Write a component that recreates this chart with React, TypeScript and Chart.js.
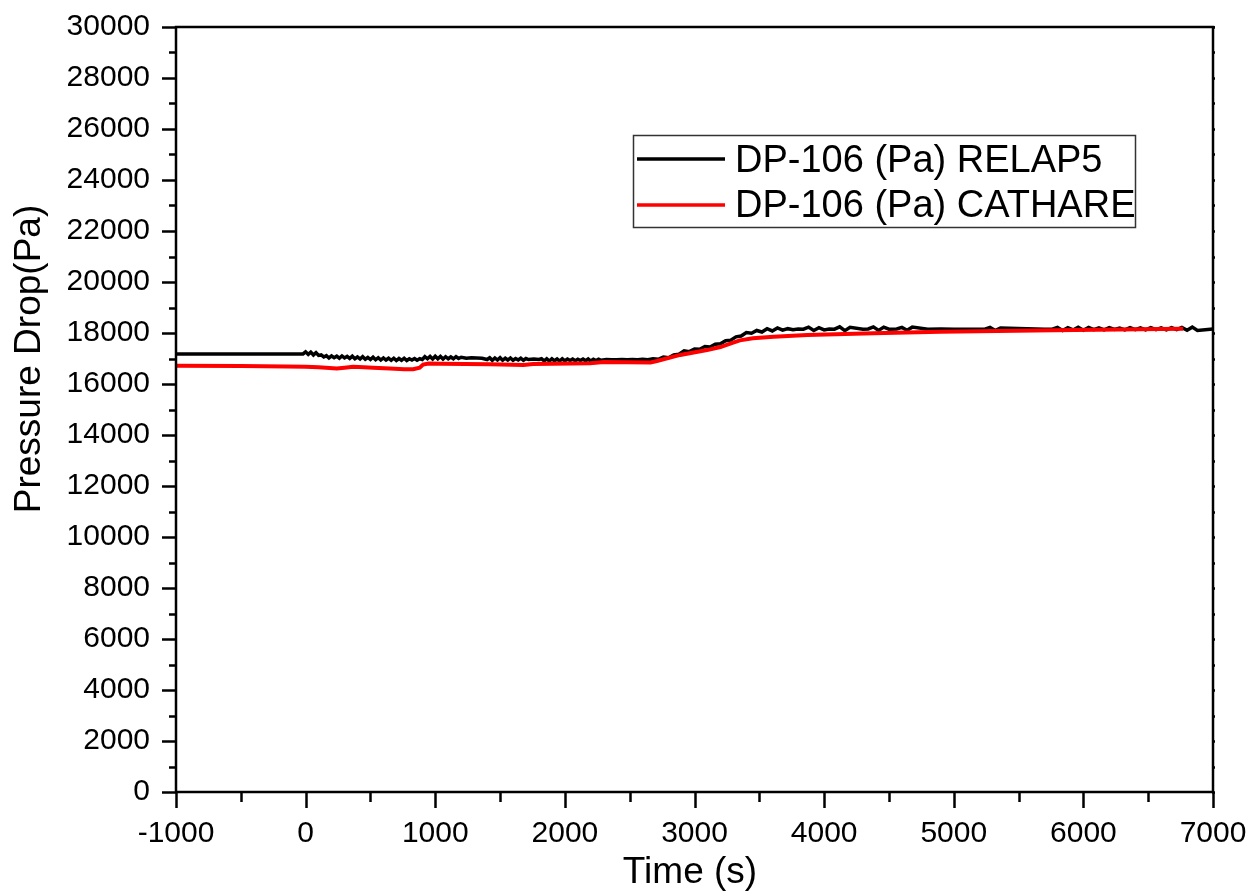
import React, { useEffect, useRef } from "react";
import { Chart, registerables } from "chart.js";

Chart.register(...registerables);

const FONT = "'Liberation Sans', Arial, sans-serif";

const xTitle = "Time (s)";
const yTitle = "Pressure Drop(Pa)";
const legendLabels = ["DP-106 (Pa) RELAP5", "DP-106 (Pa) CATHARE"];
const seriesColors = ["#000000", "#ff0000"];

const xMin = -1000;
const xMax = 7000;
const yMin = 0;
const yMax = 30000;

// RELAP5 (black)
const relapTime = [
  -1000, -20, 0, 20, 40, 60, 80, 100, 120, 140, 160, 180, 200, 220, 240, 260, 280, 300, 320, 340, 360, 380, 400,
  420, 440, 460, 480, 500, 520, 540, 560, 580, 600, 620, 640, 660, 680, 700, 720, 740, 760, 780, 800, 820, 840,
  860, 880, 900, 920, 940, 960, 980, 1000, 1020, 1040, 1060, 1080, 1100, 1120, 1140, 1160, 1180, 1200, 1240, 1280,
  1320, 1360, 1400, 1420, 1440, 1460, 1480, 1500, 1520, 1540, 1560, 1580, 1600, 1620, 1640, 1660, 1680, 1700, 1720,
  1760, 1800, 1820, 1840, 1860, 1880, 1900, 1920, 1940, 1960, 1980, 2000, 2020, 2040, 2060, 2080, 2100, 2120, 2140,
  2160, 2180, 2200, 2220, 2240, 2260, 2280, 2320, 2360, 2400, 2440, 2480, 2520, 2560, 2600, 2640, 2680, 2720, 2760,
  2800, 2840, 2880, 2920, 2960, 3000, 3040, 3080, 3120, 3160, 3200, 3240, 3280, 3320, 3360, 3400, 3440, 3480, 3520,
  3560, 3600, 3640, 3680, 3720, 3760, 3800, 3840, 3880, 3920, 3960, 4000, 4040, 4080, 4120, 4160, 4200, 4300, 4340,
  4380, 4420, 4460, 4500, 4560, 4600, 4640, 4680, 4800, 4900, 5000, 5200, 5240, 5280, 5320, 5360, 5700, 5760, 5800,
  5840, 5880, 5920, 5960, 6000, 6040, 6080, 6120, 6160, 6200, 6240, 6280, 6320, 6360, 6400, 6440, 6480, 6520, 6560,
  6600, 6640, 6680, 6720, 6760, 6800, 6840, 6880, 7000,
];
const relapPressure = [
  17180, 17180, 17260, 17160, 17250, 17140, 17230, 17120, 17140, 17060, 17110, 17020, 17100, 17030, 17090, 17010,
  17100, 17020, 17080, 17000, 17090, 16990, 17060, 16980, 17070, 16970, 17040, 16960, 17050, 16950, 17030, 16940,
  17020, 16940, 17010, 16930, 17010, 16920, 17000, 16930, 17010, 16920, 16990, 16940, 17000, 16930, 16990, 16960,
  17070, 16990, 17080, 16980, 17090, 16990, 17080, 16980, 17070, 16990, 17060, 16990, 17070, 17000, 17050, 17010,
  17030, 17020, 17010, 16960, 17030, 16930, 17020, 16940, 17030, 16930, 17010, 16940, 17020, 16930, 17000, 16940,
  17010, 16930, 17000, 16960, 16980, 16960, 16990, 16910, 16990, 16900, 16990, 16910, 16980, 16900, 16990, 16910,
  16980, 16920, 16980, 16910, 16970, 16920, 16980, 16910, 16980, 16900, 16970, 16920, 16970, 16930, 16960, 16950,
  16950, 16960, 16950, 16960, 16950, 16970, 16950, 16990, 16970, 17060, 17030, 17140, 17170, 17300, 17270, 17370,
  17360, 17470, 17450, 17560, 17580, 17700, 17720, 17850, 17880, 18020, 17990, 18100, 18040, 18170, 18080, 18200,
  18110, 18170, 18130, 18160, 18150, 18230, 18100, 18210, 18120, 18160, 18150, 18240, 18090, 18220, 18150, 18160,
  18240, 18100, 18230, 18150, 18160, 18220, 18110, 18230, 18150, 18160, 18150, 18150, 18150, 18220, 18100, 18200,
  18150, 18150, 18220, 18100, 18210, 18120, 18230, 18110, 18220, 18130, 18200, 18120, 18210, 18140, 18190, 18120,
  18210, 18130, 18200, 18120, 18210, 18130, 18200, 18120, 18210, 18130, 18220, 18110, 18230, 18100, 18160, 18160,
];

// CATHARE (red)
const cathareTime = [
  -1000, -500, -150, 0, 100, 240, 300, 366, 450, 520, 650, 760, 830, 880, 906, 950, 1037, 1420, 1680, 1755, 2195,
  2300, 2660, 2710, 2890, 3097, 3200, 3298, 3350, 3450, 3610, 3870, 4380, 4895, 5770, 6770,
];
const catharePressure = [
  16720, 16710, 16690, 16680, 16660, 16610, 16640, 16680, 16660, 16640, 16610, 16580, 16580, 16640, 16760, 16800,
  16790, 16770, 16750, 16780, 16810, 16860, 16840, 16900, 17140, 17330, 17450, 17620, 17710, 17790, 17850, 17920,
  17990, 18050, 18110, 18170,
];

const toPoints = (t: number[], v: number[]) => t.map((x, i) => ({ x, y: v[i] }));

const framePlugin = {
  id: "frame",
  afterDraw(chart: any) {
    const { ctx, chartArea, scales } = chart;
    const { left, right, top, bottom } = chartArea;
    const xs = scales.x;
    const ys = scales.y;
    ctx.save();
    ctx.strokeStyle = "#000";
    ctx.lineWidth = 2.5;
    ctx.strokeRect(left, top, right - left, bottom - top);
    ctx.lineCap = "butt";
    // y ticks
    for (let v = yMin; v <= yMax; v += 1000) {
      const y = Math.round(ys.getPixelForValue(v)) + 0.5;
      const major = v % 2000 === 0;
      ctx.beginPath();
      ctx.moveTo(left, y);
      ctx.lineTo(left - (major ? 14 : 7), y);
      ctx.stroke();
      ctx.beginPath();
      ctx.moveTo(right - 1, y);
      ctx.lineTo(right + 2, y);
      ctx.stroke();
    }
    // x ticks
    for (let v = xMin; v <= xMax; v += 500) {
      const x = Math.round(xs.getPixelForValue(v)) + 0.5;
      const major = v % 1000 === 0;
      ctx.beginPath();
      ctx.moveTo(x, bottom);
      ctx.lineTo(x, bottom + (major ? 16 : 10));
      ctx.stroke();
      ctx.beginPath();
      ctx.moveTo(x, top - 1);
      ctx.lineTo(x, top + 1);
      ctx.stroke();
    }
    // axis titles
    ctx.fillStyle = "#000";
    ctx.font = `37px ${FONT}`;
    ctx.textAlign = "center";
    ctx.textBaseline = "alphabetic";
    ctx.fillText(xTitle, 690, 883);
    ctx.save();
    ctx.translate(40, 359);
    ctx.rotate(-Math.PI / 2);
    ctx.fillText(yTitle, 0, 0);
    ctx.restore();
    // legend
    ctx.lineWidth = 1.5;
    ctx.strokeStyle = "#333";
    ctx.strokeRect(633.5, 135.5, 502, 92);
    ctx.font = `38px ${FONT}`;
    ctx.textAlign = "left";
    const lineYs = [159, 205];
    const baseYs = [172, 217];
    legendLabels.forEach((lbl, i) => {
      ctx.strokeStyle = seriesColors[i];
      ctx.lineWidth = 3.5;
      ctx.beginPath();
      ctx.moveTo(637, lineYs[i]);
      ctx.lineTo(725, lineYs[i]);
      ctx.stroke();
      ctx.fillStyle = "#000";
      ctx.fillText(lbl, 735, baseYs[i]);
    });
    ctx.restore();
  },
};

export default function App() {
  const ref = useRef<HTMLCanvasElement | null>(null);
  useEffect(() => {
    document.body.style.margin = "0";
    const canvas = ref.current;
    if (!canvas) return;
    const chart = new Chart(canvas, {
      type: "line",
      data: {
        datasets: [
          {
            label: legendLabels[0],
            data: toPoints(relapTime, relapPressure),
            borderColor: seriesColors[0],
            borderWidth: 3.5,
            pointRadius: 0,
            tension: 0,
            order: 1,
          },
          {
            label: legendLabels[1],
            data: toPoints(cathareTime, catharePressure),
            borderColor: seriesColors[1],
            borderWidth: 4,
            pointRadius: 0,
            tension: 0,
            order: 0,
          },
        ],
      },
      options: {
        responsive: false,
        animation: false,
        devicePixelRatio: 1,
        layout: { padding: { left: 0, top: 27, right: 40, bottom: 0 } },
        plugins: { legend: { display: false }, tooltip: { enabled: false } },
        scales: {
          x: {
            type: "linear",
            min: xMin,
            max: xMax,
            grid: { display: false, drawTicks: false },
            border: { display: false },
            ticks: {
              stepSize: 500,
              autoSkip: false,
              maxRotation: 0,
              padding: 24,
              color: "#000",
              font: { family: FONT, size: 30 },
              callback: (v: any) => (Number(v) % 1000 === 0 ? String(v) : ""),
            },
            afterFit: (s: any) => {
              s.height = 103;
              s.paddingLeft = 0;
              s.paddingRight = 0;
            },
          },
          y: {
            type: "linear",
            min: yMin,
            max: yMax,
            grid: { display: false, drawTicks: false },
            border: { display: false },
            ticks: {
              stepSize: 1000,
              autoSkip: false,
              padding: 26,
              color: "#000",
              font: { family: FONT, size: 30 },
              callback: (v: any) => (Number(v) % 2000 === 0 ? String(v) : ""),
            },
            afterFit: (s: any) => {
              s.width = 176;
              s.paddingTop = 0;
              s.paddingBottom = 0;
            },
          },
        },
      },
      plugins: [framePlugin],
    });
    return () => chart.destroy();
  }, []);
  return (
    <div style={{ width: 1253, height: 895, background: "#fff" }}>
      <canvas ref={ref} width={1253} height={895} style={{ display: "block" }} />
    </div>
  );
}
